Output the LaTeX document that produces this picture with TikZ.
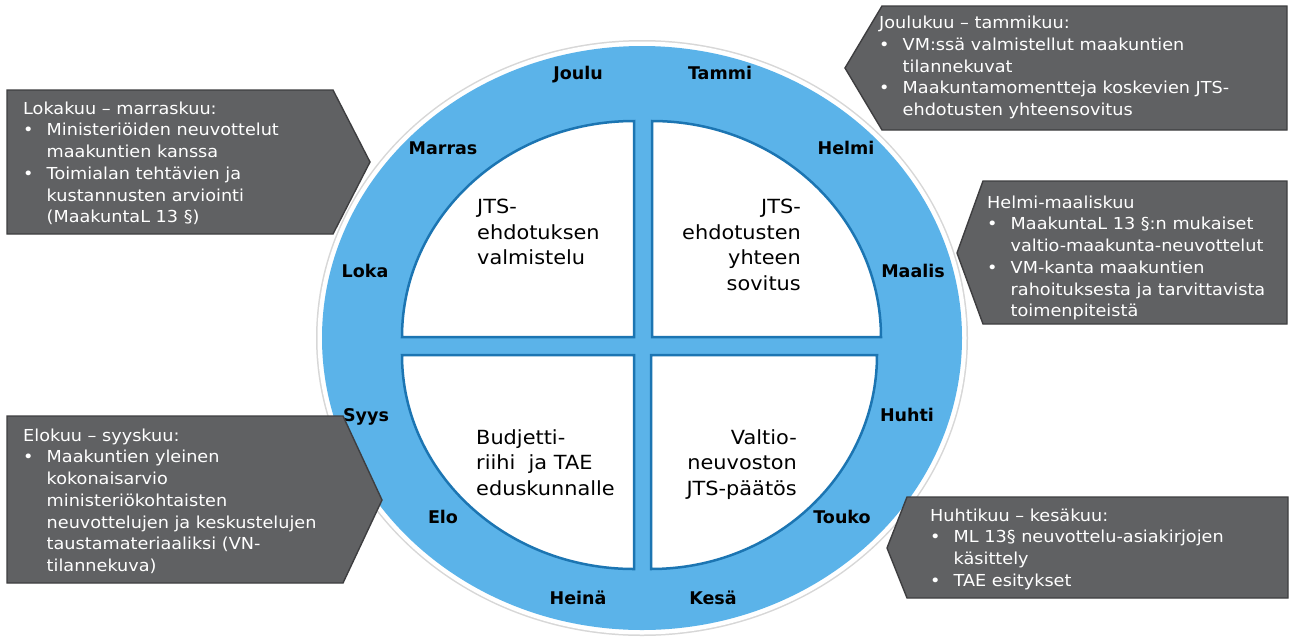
\documentclass[tikz,border=0pt]{standalone}
\usepackage{fontspec}
\setmainfont{DejaVu Sans}
\newfontfamily\calloutfont{DejaVu Sans}[FakeStretch=1.07]
\definecolor{ringblue}{RGB}{91,179,233}
\definecolor{quadblue}{RGB}{28,117,178}
\definecolor{boxgray}{RGB}{96,97,99}
\definecolor{boxedge}{RGB}{62,62,64}
\definecolor{rimshade}{RGB}{215,215,215}
\newcommand\cbul{\makebox[23.5pt][l]{•}}
\newcommand\cind{\hspace*{23.5pt}}
\begin{document}
\begin{tikzpicture}[x=1pt,y=1pt,
  quad/.style={fill=white, draw=quadblue, line width=2.5pt},
  callout/.style={fill=boxgray, draw=boxedge, line width=1.4pt, line join=miter},
  calltext/.style={text=white, font=\calloutfont\fontsize{16.5}{21.7}\selectfont, align=left, inner sep=0pt, anchor=north west},
  month/.style={font=\bfseries\fontsize{17.5}{20}\selectfont, inner sep=0pt, text height=12.8pt, text depth=0pt},
  qtext/.style={font=\calloutfont\fontsize{19.5}{25.5}\selectfont, inner sep=0pt}]
\useasboundingbox (0,0) rectangle (1291,-641);
\fill[white] (0,0) rectangle (1291,-641);

% outer ring
\fill[rimshade] (642,-338) ellipse[x radius=326pt, y radius=298pt];
\fill[white] (642,-338) ellipse[x radius=324.5pt, y radius=296.5pt];
\fill[ringblue] (642,-338) ellipse[x radius=320pt, y radius=292pt];

% quadrants
\draw[quad] (634,-337) -- (634,-121) arc[start angle=90, end angle=180, x radius=232pt, y radius=216pt] -- cycle;
\draw[quad] (652,-337) -- (652,-121) arc[start angle=90, end angle=0, x radius=229pt, y radius=216pt] -- cycle;
\draw[quad] (634,-355) -- (402,-355) arc[start angle=180, end angle=270, x radius=232pt, y radius=214pt] -- cycle;
\draw[quad] (651,-355) -- (877,-355) arc[start angle=0, end angle=-90, x radius=226pt, y radius=214pt] -- cycle;

% quadrant texts
\node[qtext, anchor=north west, align=left] (q1) at (477,-199) {JTS-\\ehdotuksen\\valmistelu};
\node[qtext, anchor=north east, align=right] (q2) at (801,-199) {JTS-\\ehdotusten\\yhteen\\sovitus};
\node[qtext, anchor=north west, align=left] (q3) at (476,-429) {Budjetti-\\riihi\ \ ja TAE\\eduskunnalle};
\node[qtext, anchor=north east, align=right] (q4) at (797,-429) {Valtio-\\neuvoston\\JTS-päätös};

% months
\node[month] (m1) at (578,-73) {Joulu};
\node[month] (m2) at (720,-73) {Tammi};
\node[month] (m3) at (443,-148) {Marras};
\node[month] (m4) at (846,-148) {Helmi};
\node[month] (m5) at (365,-271) {Loka};
\node[month] (m6) at (913,-271) {Maalis};
\node[month] (m7) at (366,-415) {Syys};
\node[month] (m8) at (907,-415) {Huhti};
\node[month] (m9) at (443,-517) {Elo};
\node[month] (m10) at (842,-517) {Touko};
\node[month] (m11) at (578,-598) {Heinä};
\node[month] (m12) at (713,-598) {Kesä};

% callouts
\draw[callout] (7,-90) -- (333,-90) -- (370,-162) -- (333,-234) -- (7,-234) -- cycle;
\node[calltext] (c1) at (23,-101.5) {Lokakuu – marraskuu:\\
\cbul Ministeriöiden neuvottelut\\
\cind maakuntien kanssa\\
\cbul Toimialan tehtävien ja\\
\cind kustannusten arviointi\\
\cind (MaakuntaL 13 §)};

\draw[callout] (1287,-6) -- (882,-6) -- (845,-68) -- (882,-130) -- (1287,-130) -- cycle;
\node[calltext] (c2) at (879,-16) {Joulukuu – tammikuu:\\
\cbul VM:ssä valmistellut maakuntien\\
\cind tilannekuvat\\
\cbul Maakuntamomentteja koskevien JTS-\\
\cind ehdotusten yhteensovitus};

\draw[callout] (1287,-181) -- (983,-181) -- (957,-253) -- (983,-324) -- (1287,-324) -- cycle;
\node[calltext] (c3) at (987,-195.5) {Helmi-maaliskuu\\
\cbul MaakuntaL 13 §:n mukaiset\\
\cind valtio-maakunta-neuvottelut\\
\cbul VM-kanta maakuntien\\
\cind rahoituksesta ja tarvittavista\\
\cind toimenpiteistä};

\draw[callout] (7,-416) -- (343,-416) -- (382,-500) -- (343,-583) -- (7,-583) -- cycle;
\node[calltext] (c4) at (23,-428.5) {Elokuu – syyskuu:\\
\cbul Maakuntien yleinen\\
\cind kokonaisarvio\\
\cind ministeriökohtaisten\\
\cind neuvottelujen ja keskustelujen\\
\cind taustamateriaaliksi (VN-\\
\cind tilannekuva)};

\draw[callout] (1288,-497) -- (907,-497) -- (887,-548) -- (907,-598) -- (1288,-598) -- cycle;
\node[calltext] (c5) at (930,-508.5) {Huhtikuu – kesäkuu:\\
\cbul ML 13§ neuvottelu-asiakirjojen\\
\cind käsittely\\
\cbul TAE esitykset};
\end{tikzpicture}
\end{document}
